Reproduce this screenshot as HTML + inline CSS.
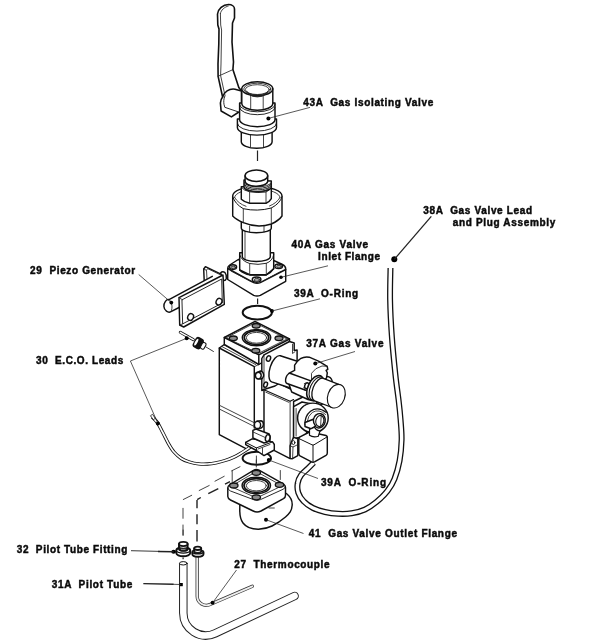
<!DOCTYPE html>
<html><head><meta charset="utf-8"><title>Gas Valve Assembly</title>
<style>
html,body{margin:0;padding:0;background:#fff;}
svg{display:block;}
text{white-space:pre;font-family:"Liberation Sans",sans-serif;font-weight:bold;font-size:10px;fill:#0a0a0a;stroke:#0a0a0a;stroke-width:0.45px;}
.k{fill:none;stroke:#111;stroke-width:1.45;stroke-linejoin:round;stroke-linecap:round;}
.w{fill:#fff;stroke:#111;stroke-width:1.45;stroke-linejoin:round;stroke-linecap:round;}
.t{fill:none;stroke:#222;stroke-width:0.85;stroke-linejoin:round;stroke-linecap:round;}
.tw{fill:#fff;stroke:#333;stroke-width:0.7;stroke-linejoin:round;}
.l{fill:none;stroke:#222;stroke-width:0.75;}
.d{fill:#000;stroke:none;}
.dash{fill:none;stroke:#222;stroke-width:1.2;}
</style></head>
<body>
<svg width="600" height="643" viewBox="0 0 600 643">
<rect width="600" height="643" fill="#fff"/>

<!-- LABELS -->
<g id="labels" xml:space="preserve" style="will-change:transform;transform:rotate(0.001deg)">
<text x="303.3" y="105.9" textLength="130" lengthAdjust="spacing">43A  Gas Isolating Valve</text>
<text x="423.3" y="213.8" textLength="108.8" lengthAdjust="spacing">38A  Gas Valve Lead</text>
<text x="452.7" y="226" textLength="102.6" lengthAdjust="spacing">and Plug Assembly</text>
<text x="291.5" y="248" textLength="76.5" lengthAdjust="spacing">40A Gas Valve</text>
<text x="318.1" y="260.3" textLength="61.9" lengthAdjust="spacing">Inlet Flange</text>
<text x="30.1" y="274" textLength="105.1" lengthAdjust="spacing">29  Piezo Generator</text>
<text x="293.9" y="296.7" textLength="64.2" lengthAdjust="spacing">39A  O-Ring</text>
<text x="306.2" y="347.2" textLength="77.3" lengthAdjust="spacing">37A Gas Valve</text>
<text x="36" y="364.2" textLength="87.2" lengthAdjust="spacing">30  E.C.O. Leads</text>
<text x="321" y="485.7" textLength="65" lengthAdjust="spacing">39A  O-Ring</text>
<text x="308.8" y="537.2" textLength="148.2" lengthAdjust="spacing">41  Gas Valve Outlet Flange</text>
<text x="16.7" y="552.8" textLength="110.6" lengthAdjust="spacing">32  Pilot Tube Fitting</text>
<text x="234.3" y="567.6" textLength="95.3" lengthAdjust="spacing">27  Thermocouple</text>
<text x="51.7" y="587.5" textLength="80.6" lengthAdjust="spacing">31A  Pilot Tube</text>
</g>

<!-- PART 43A : ball valve -->
<g id="p43">
<!-- handle -->
<path class="w" d="M221.1,111 L220.4,103 Q220.6,99.5 222.6,97 L218.1,76.3 L218,64 L218.8,44 L219,29 L217.8,25 L217.5,14 C218,9 223,4.5 228.5,4.5 C232,4.5 234.5,6.5 234.5,9 L234.5,18 L232.5,23 L232,42 L233.5,62 L232.9,69.6 L238.8,87.4 L241.5,91 L241.5,111 L238.1,112.5 L231.4,116.9 Z" style="stroke-width:1.6"/>
<path class="t" d="M220.4,13.5 C221,10 224.5,7 228.3,6 M220.4,13.5 L220.7,25 L221.6,30 L221,64 L220.6,75.5 L225,95.5"/>
<path class="t" d="M218.1,76.3 L232.9,69.6"/>
<path class="k" d="M222.6,97 C224,92 229,88.3 235,89.2 L241.5,91"/>
<path class="k" d="M224.8,96.2 C223.6,99 223.6,102 224,104.4 L224.8,107.3 L238.1,111.8" style="stroke-width:0.9"/>
<!-- lower hex -->
<path class="w" d="M241.3,130 L241.3,141.8 A15.4,6.5 0 0 0 272.1,141.8 L272.1,130 Z"/>
<path class="t" d="M250.5,135 L250.5,146.8 M263.5,135 L263.5,146.8"/>
<!-- lower ring -->
<path class="w" d="M237.4,119 L237.4,127.5 A19.55,7.6 0 0 0 276.5,127.5 L276.5,119 Z"/>
<path class="k" d="M237.4,123.5 A19.55,7.6 0 0 0 276.5,123.5" style="stroke-width:0.9"/>
<!-- body cylinder -->
<path class="w" d="M239.6,103 L239.6,119.5 A17.7,7.2 0 0 0 275,119.5 L275,103 Z"/>
<path class="k" d="M239.6,107.5 A17.7,7.2 0 0 0 275,107.5" style="stroke-width:0.9"/>
<path class="k" d="M239.6,104.6 A17.7,7.2 0 0 0 275,104.6" style="stroke-width:0.9"/>
<!-- upper hex -->
<path class="w" d="M241.8,88.8 L241.8,103.6 A15.5,6.6 0 0 0 272.8,103.6 L272.8,88.8 Z"/>
<path class="t" d="M250.7,95.2 L250.7,108.6 M263.2,95.4 L263.2,108.8"/>
<ellipse class="w" cx="257.3" cy="88.8" rx="15.5" ry="7"/>
<ellipse class="t" cx="257.3" cy="89" rx="13.6" ry="5.8"/>
<ellipse class="t" cx="257.3" cy="89.6" rx="12" ry="4.9"/>
<path class="t" d="M246.8,91.3 A10.5,4.6 0 0 0 267.8,91.3"/>
<path class="t" d="M248.3,92.8 A9,4 0 0 0 266.3,92.8"/>
<path class="t" d="M250,94.2 A7.5,3.2 0 0 0 264.6,94.2"/>
<circle class="d" cx="268.4" cy="118.4" r="2"/>
<path class="l" d="M268.4,118.4 L310,107.4"/>
</g>
<path class="dash" d="M257.5,150.5 L257.5,161"/>

<!-- PART 40A : union + inlet flange -->
<g id="p40">
<!-- flange -->
<path class="w" d="M227.7,268.5 Q227.7,266.2 229.7,265 L238.3,259.5 L273.7,260.5 L282.5,264.5 Q285.7,266 285.7,269 L285.7,281.3 L260.3,295.3 Q257,296.6 253.7,295.3 L227.7,279.5 Z"/>
<path class="k" d="M227.7,268.5 L253.7,282.7 Q257,284 260.3,282.7 L285.7,269.5"/>
<path class="t" d="M231,271 L251,281.6 M263,281 L280.8,271.5"/>
<ellipse class="w" cx="233" cy="267.1" rx="3.6" ry="2.3"/><ellipse class="t" cx="233.3" cy="267.4" rx="2.2" ry="1.3" style="fill:#aaa"/>
<ellipse class="w" cx="256.6" cy="279.6" rx="4.3" ry="2.6"/><ellipse class="t" cx="256.9" cy="279.9" rx="2.7" ry="1.5" style="fill:#aaa"/>
<ellipse class="w" cx="278.7" cy="266.3" rx="3.8" ry="2.3"/><ellipse class="t" cx="279" cy="266.6" rx="2.3" ry="1.3" style="fill:#aaa"/>
<!-- lower nut -->
<path class="w" d="M239.7,252.7 L239.7,270 L249.7,274.7 L266.3,274.7 L273.7,268.7 L273.7,252.7 Z"/>
<path class="k" d="M239.7,270 Q244,274 249.7,274.9 L266.3,274.9 Q271,273 273.7,268.7"/>
<path class="k" d="M239.7,254.8 Q241.5,261 249.7,263.5 Q258,265.3 266.3,263.3 Q272.5,261 273.7,254.8" style="stroke-width:0.9"/>
<path class="t" d="M249.7,263.5 L249.7,274.7 M266.3,263.3 L266.3,274.7"/>
<!-- tube -->
<path class="w" d="M242.3,226 L242.3,256.7 A14,4.8 0 0 0 270.3,256.7 L270.3,226 Z"/>
<path class="t" d="M245,231 L245,258.5"/>
<!-- ring under collar -->
<path class="w" d="M241.3,220 L241.3,228 A15,4.8 0 0 0 271.3,228 L271.3,220 Z"/>
<path class="t" d="M249.6,226 L249.6,232 M264,226 L264,232.2"/>
<!-- collar -->
<path class="w" d="M232.7,196 L232.7,216 Q236,219.5 243.3,222.7 Q257.3,228.6 271.3,224 Q279,220.5 282,216 L282,196 A24.65,9.3 0 0 0 232.7,196 Z"/>
<path class="k" d="M232.7,196.7 Q235,204 243.3,208.7 Q257.3,211.8 271.3,208 Q280,203.5 282,196.7" style="stroke-width:1"/>
<path class="t" d="M243.3,208.7 L243.3,222.7 M271.3,208 L271.3,224"/>
<path class="t" d="M234.6,197.5 A22.7,8.3 0 0 1 280,197.5"/>
<path class="t" d="M234.6,197.5 Q238,203.5 246,206.3 M280,197.5 Q277,203 269.5,206"/>
<!-- upper hex nut -->
<path class="w" d="M241.3,186.7 L241.3,199.3 Q244,202 249.6,203.3 L266,203.3 Q269.5,202 271.3,198.7 L271.3,186 Z"/>
<path class="k" d="M241.3,187.2 Q243.5,190.5 249.6,191.8 Q258,193.2 266,192 Q270,190.5 271.3,186.8" style="stroke-width:0.9"/>
<path class="t" d="M249.6,191.8 L249.6,203.3 M266,192 L266,203.3"/>
<!-- thread -->
<path class="w" d="M244,180 L244,187 A13.6,4.6 0 0 0 271.3,187 L271.3,181 Z"/>
<path class="t" d="M244.2,182 A13.5,4.6 0 0 0 271.2,182.6 M244.2,183.6 A13.5,4.6 0 0 0 271.2,184 M244.2,185.2 A13.5,4.6 0 0 0 271.2,185.4" style="stroke-width:1"/>
<path class="t" d="M246.5,188.2 A11,3.6 0 0 0 268.5,188.2"/>
<!-- cap -->
<path class="w" d="M245.1,175.7 L245.1,180.5 A11.3,5.2 0 0 0 267.7,181.5 L267.7,175.7 Z"/>
<ellipse class="w" cx="256.4" cy="175.7" rx="11.3" ry="5.7"/>
<circle class="d" cx="281" cy="277.3" r="1.8"/>
<path class="l" d="M281,277.3 L328,265.8"/>
</g>
<path class="dash" d="M257.6,298.5 L257.6,304"/>

<!-- PART 29 : piezo generator -->
<g id="p29">
<!-- back bracket -->
<path class="w" d="M203.7,269 L205.4,266.7 L223,275.2 L223,279 L204.3,283 Z"/>
<path class="t" d="M203.7,269 L206.5,270.3 L207,279 M206.5,270.3 L207.6,268.6 L220,274.6"/>
<!-- pin -->
<path class="w" d="M220.6,273 Q222.5,270.8 225,272.6 Q227,275 226.3,278.5 Q225.5,281 223.5,280.5 Z"/>
<!-- rod -->
<path d="M169,299.7 L212.3,276.3 L216,282 L171,311.7 C168,313.3 164.2,310.5 163.9,306.5 C163.7,302.5 166.5,299 169,299.7 Z" fill="#fff" stroke="none"/>
<path class="k" d="M212.3,276.3 L169,299.7 C166.5,299 163.7,302.5 163.9,306.5 C164.2,310.5 168,313.3 171,311.7 L180,307"/>
<path class="t" d="M169.5,300 C172,302 173,308 171,311.5"/>
<!-- plate -->
<path class="w" d="M179,297.7 L223,275 L224.3,304.3 L183.7,327 L179.7,325 Z"/>
<path class="k" d="M182.3,299.7 L221.7,279 L222.3,303 L183,323.7 Z" style="stroke-width:0.9"/>
<path class="t" d="M179,297.7 L182.3,299.7 M179.7,325 L183,323.7"/>
<ellipse class="w" cx="190.6" cy="317" rx="2.8" ry="3.4" transform="rotate(25 190.6 317)"/>
<ellipse class="w" cx="219" cy="301.7" rx="2.8" ry="3.4" transform="rotate(25 219 301.7)"/>
<circle class="d" cx="171.3" cy="302.6" r="1.9"/>
<path class="l" d="M171.3,302.6 L138.7,274.5"/>
</g>

<!-- upper O-ring 39A -->
<g id="oring1">
<ellipse class="k" cx="257.3" cy="312.6" rx="14.6" ry="6.9" style="stroke-width:2"/>
<circle class="d" cx="272" cy="311" r="1.9"/>
<path class="l" d="M272,311 L320,298.8"/>
</g>

<!-- PART 37A : gas valve -->
<g id="p37">
<!-- left main body -->
<path class="w" d="M219.3,348 L224.3,344.5 L258.8,362 L264.8,366 L264.8,442 L253,442 L247.8,449.6 L219.3,434.6 Z"/>
<path class="k" d="M219.3,348 L254.3,366.7 L254.3,428"/>
<path class="t" d="M221.8,346.5 L255.5,364.5"/>
<path class="t" d="M219.3,405.2 L254.3,422.7 M219.3,409 L254.3,426.5"/>
<path class="t" d="M254.3,366.7 L258.8,364.5"/>
<!-- right lower block -->
<path class="w" d="M264,389.5 L276,382 L305,396 L293.6,401.5 L293.6,457 L290.1,458.6 L274,450.4 L264,446 Z"/>
<path class="k" d="M264,389.8 L290.1,401.2 L293.6,399.5" style="stroke-width:1.1"/>
<path class="t" d="M290.1,401.2 L290.1,458.4 M265.8,392.2 L288.8,402.3"/>
<!-- top block -->
<path class="w" d="M224.3,337.5 L255,321.3 L289.5,339 L289.5,346 L258.8,364.5 L224.3,344.5 Z"/>
<path class="k" d="M224.3,337.5 L258.8,354.8 L289.5,339 M258.8,354.8 L258.8,364.5"/>
<path class="t" d="M226.6,337.6 L255,322.8 L287,339 L258.8,353.2 Z"/>
<ellipse class="w" cx="256.5" cy="337.6" rx="14.2" ry="8.2"/>
<ellipse class="k" cx="256.5" cy="337.6" rx="12.3" ry="6.9" style="stroke-width:1.7"/>
<ellipse class="t" cx="256.5" cy="337.8" rx="10.2" ry="5.4"/>
<g fill="#8a8a8a" stroke="#111" stroke-width="1.3">
<ellipse cx="256.2" cy="325.8" rx="4" ry="2.3"/>
<ellipse cx="233.3" cy="338.3" rx="4" ry="2.3"/>
<ellipse cx="279" cy="338.3" rx="4" ry="2.3"/>
<ellipse cx="255.8" cy="350.7" rx="4" ry="2.3"/>
</g>
<!-- side plate -->
<path class="w" d="M264,354.8 L289.5,341.5 L294.2,343 L294.2,350.4 L297.1,350 L297.1,372 L275,386 L264,389.5 L261.8,390.5 L261.8,358.5 Z"/>
<path class="t" d="M292.5,344.4 L292.5,353.5 L295,351.7"/>
<path class="t" d="M264,354.8 L264,388.5"/>
<ellipse class="w" cx="268.5" cy="358.5" rx="2" ry="2.8" transform="rotate(20 268.5 358.5)"/>
<ellipse class="w" cx="265.6" cy="384.7" rx="1.8" ry="2.7" transform="rotate(20 265.6 384.7)"/>
<!-- knob on front -->
<path class="w" d="M256.3,373 L260.5,371 Q264,372 263.6,376 Q263,378.5 260.8,379 L257,378.6 Z"/>
<ellipse class="w" cx="258.3" cy="375.6" rx="2.9" ry="3.3"/>
</g>

<!-- solenoid group -->
<g id="sol">
<!-- big cylinder 1 -->
<path class="w" d="M301.2,362.5 L280.3,355.7 A6.3,13.8 18 0 0 271.7,381.9 L292.7,388.7 Z"/>
<!-- lower housing under rod -->
<path class="w" d="M288.8,383.8 L291.7,392 L308,399.5 L314,401 L314,384 Z"/>
<!-- back ring -->
<ellipse class="w" cx="324" cy="390.5" rx="7.5" ry="14.5" transform="rotate(19.8 324 390.5)"/>
<!-- clamp bracket -->
<path class="w" d="M297.5,361.1 L300.4,358.7 Q304.5,356.3 309.2,357.2 L318.5,361.1 L327.2,366.3 L327.8,369.3 L326.1,370.4 L327.3,372.8 L326.5,378 L311.5,392 L304.5,389.5 L288.8,381 L288.8,373.3 L294.6,370.4 L294.6,365.2 Z"/>
<path class="t" d="M311.5,381.5 L311.5,373.3 Q315,367.8 322,366 L327.2,366.3"/>
<!-- small rod -->
<path class="w" d="M312.2,381.4 L290.6,373.5 A2.9,5.3 20 0 0 287.0,383.5 L308.6,391.3 Z"/>
<ellipse class="w" cx="306.8" cy="385.8" rx="2" ry="3" transform="rotate(20 306.8 385.8)"/>
<path class="t" d="M304.3,383.6 L306.3,382.9 M303.6,387.8 L305.8,388.6"/>
<!-- big end cylinder -->
<ellipse class="w" cx="315" cy="387.6" rx="6.9" ry="13" transform="rotate(25 315 387.6)" style="stroke-width:1.6"/>
<ellipse class="w" cx="316.8" cy="388.4" rx="6.5" ry="12.3" transform="rotate(24 316.8 388.4)" style="stroke-width:1.1"/>
<path class="w" d="M340.7,385.1 L323.3,378.4 A6.3,12.0 21 0 0 314.7,400.8 L332.1,407.5 Z" style="stroke-width:1.3"/>
<ellipse class="w" cx="336.3" cy="396.2" rx="8.5" ry="12.2" transform="rotate(19.8 336.3 396.2)" style="stroke-width:1.1"/>
<circle class="d" cx="315.3" cy="363.6" r="2"/>
<path class="l" d="M315.3,363.6 L355,351.5"/>
</g>

<!-- lower knob unit -->
<g id="knob">
<path class="w" d="M293.6,406.6 L302,402 L312,404 L306,436 L293.6,438.8 Z"/>
<path class="t" d="M296.1,408.5 L296.1,436"/>
<ellipse class="w" cx="312.9" cy="417.9" rx="15.3" ry="14.8"/>
<path class="t" d="M298.6,413.5 Q300.5,406.5 307.5,404"/>
<path class="k" d="M305,425 Q304.5,416 310.5,411.2 Q318,406 326.3,412.5" style="stroke-width:1.2"/>
<path class="t" d="M307.2,421.5 Q308,415.5 312.5,412.3 Q319,408.5 325.6,414.5"/>
<ellipse class="w" cx="319.2" cy="420.8" rx="6" ry="7.2" transform="rotate(12 319.2 420.8)"/>
<ellipse class="k" cx="319.8" cy="421" rx="4" ry="5.5" transform="rotate(12 319.8 421)" style="stroke-width:1.1"/>
<path class="t" d="M321.2,416 L320.6,426"/>
<path class="w" d="M305,422.5 L313.3,419.3 Q313.2,423.5 315.5,426 L311,428.8 L305,426.5 Z"/>
</g>

<!-- PART 38A : lead cable -->
<g id="p38">
<path d="M390.5,268.0 C390.4,273.3 389.9,288.5 390.1,300.0 C390.3,311.5 391.0,324.6 391.9,337.0 C392.8,349.4 394.3,364.1 395.4,374.6 C396.5,385.1 397.7,392.4 398.6,400.0 C399.5,407.6 400.1,413.3 400.6,420.0 C401.1,426.7 401.8,433.2 401.6,440.0 C401.4,446.8 400.8,454.1 399.6,460.6 C398.4,467.1 396.5,473.8 394.5,478.8 C392.5,483.9 390.5,487.0 387.5,490.9 C384.5,494.8 380.1,498.9 376.4,502.0 C372.6,505.1 369.1,507.6 365.0,509.5 C360.9,511.4 356.1,512.6 351.7,513.3 C347.2,514.0 342.8,514.0 338.3,513.8 C333.9,513.6 329.2,513.0 325.0,512.0 C320.8,511.0 316.6,509.8 313.0,508.0 C309.4,506.2 306.1,503.9 303.7,501.3 C301.2,498.8 299.3,495.7 298.3,492.7 C297.3,489.7 297.2,486.2 297.7,483.3 C298.1,480.4 299.3,477.7 301.0,475.3 C302.7,472.9 305.6,470.8 307.7,468.7 C309.8,466.6 312.7,463.7 313.7,462.7" fill="none" stroke="#111" stroke-width="6" stroke-linecap="butt"/>
<path d="M390.5,268.0 C390.4,273.3 389.9,288.5 390.1,300.0 C390.3,311.5 391.0,324.6 391.9,337.0 C392.8,349.4 394.3,364.1 395.4,374.6 C396.5,385.1 397.7,392.4 398.6,400.0 C399.5,407.6 400.1,413.3 400.6,420.0 C401.1,426.7 401.8,433.2 401.6,440.0 C401.4,446.8 400.8,454.1 399.6,460.6 C398.4,467.1 396.5,473.8 394.5,478.8 C392.5,483.9 390.5,487.0 387.5,490.9 C384.5,494.8 380.1,498.9 376.4,502.0 C372.6,505.1 369.1,507.6 365.0,509.5 C360.9,511.4 356.1,512.6 351.7,513.3 C347.2,514.0 342.8,514.0 338.3,513.8 C333.9,513.6 329.2,513.0 325.0,512.0 C320.8,511.0 316.6,509.8 313.0,508.0 C309.4,506.2 306.1,503.9 303.7,501.3 C301.2,498.8 299.3,495.7 298.3,492.7 C297.3,489.7 297.2,486.2 297.7,483.3 C298.1,480.4 299.3,477.7 301.0,475.3 C302.7,472.9 305.6,470.8 307.7,468.7 C309.8,466.6 312.7,463.7 313.7,462.7" fill="none" stroke="#fff" stroke-width="3.4" stroke-linecap="butt"/>
<circle class="d" cx="394.3" cy="259.3" r="3"/>
<path class="l" d="M394.3,259.3 L431.3,216.3" style="stroke-width:1.3"/>
</g>

<!-- plug box -->
<g id="plug">
<path class="w" d="M298.8,439 Q298.8,437.5 300,436.8 L308.5,432.5 Q310,431.8 311.5,432.3 L326,435.5 Q327.3,436 327.3,437.5 L327.3,453 Q327.3,454.5 326,455.3 L314.5,461.8 Q313,462.5 311.5,461.8 L300,455.8 Q298.8,455 298.8,453.5 Z"/>
<path class="k" d="M298.8,438.5 L312,444.8 Q313,445.3 314,444.8 L327.3,436.8 M313,445.3 L313,462" style="stroke-width:1"/>
<!-- clip -->
<path class="w" d="M290.1,446 L291.5,441.8 L293.6,437.4 L297.8,438.8 L297.8,455.6 L292,458.8 L290.1,458.4 Z"/>
<path class="t" d="M290.3,446 L293,447 L297.8,444.6 M293,447 L292.6,458.4"/>
<ellipse class="w" cx="293.4" cy="442.6" rx="1.5" ry="2" style="stroke-width:0.9"/>
<path class="w" d="M309.5,429.4 L309.5,435.2 Q313,437.8 318.3,436.2 L320,431 Q316,430.5 314.5,427.2 Z" style="stroke-width:1.2"/>
</g>

<!-- lower O-ring 39A -->
<g id="oring2">
<ellipse class="k" cx="256.8" cy="458.2" rx="14.2" ry="6.5" style="stroke-width:2"/>
<path class="t" d="M256.4,456 L256.4,463"/>
<circle class="d" cx="268.8" cy="460" r="2"/>
<path class="l" d="M268.8,460 L318,478.5"/>
</g>

<!-- PART 30 : ECO leads -->
<g id="p30">
<path d="M152.3,417.0 C153.2,418.0 155.8,420.3 157.5,422.8 C159.2,425.3 160.7,428.6 162.5,432.0 C164.3,435.4 166.4,440.0 168.3,443.3 C170.2,446.6 171.8,449.5 174.0,452.0 C176.2,454.5 178.7,456.8 181.3,458.5 C183.9,460.2 186.6,461.1 189.5,462.0 C192.4,462.9 195.7,463.6 198.7,463.9 C201.7,464.2 204.6,464.2 207.5,464.0 C210.4,463.8 213.1,463.4 216.0,462.8 C218.9,462.2 222.1,461.4 225.0,460.5 C227.9,459.6 230.8,458.5 233.3,457.4 C235.8,456.3 237.8,455.1 240.0,453.8 C242.2,452.5 244.5,451.0 246.3,449.8 C248.1,448.6 250.0,447.1 250.7,446.6" fill="none" stroke="#111" stroke-width="3.4"/>
<path d="M152.3,417.0 C153.2,418.0 155.8,420.3 157.5,422.8 C159.2,425.3 160.7,428.6 162.5,432.0 C164.3,435.4 166.4,440.0 168.3,443.3 C170.2,446.6 171.8,449.5 174.0,452.0 C176.2,454.5 178.7,456.8 181.3,458.5 C183.9,460.2 186.6,461.1 189.5,462.0 C192.4,462.9 195.7,463.6 198.7,463.9 C201.7,464.2 204.6,464.2 207.5,464.0 C210.4,463.8 213.1,463.4 216.0,462.8 C218.9,462.2 222.1,461.4 225.0,460.5 C227.9,459.6 230.8,458.5 233.3,457.4 C235.8,456.3 237.8,455.1 240.0,453.8 C242.2,452.5 244.5,451.0 246.3,449.8 C248.1,448.6 250.0,447.1 250.7,446.6" fill="none" stroke="#fff" stroke-width="1.7"/>
<path class="w" d="M150.8,415.5 L152.5,414.3 L155.3,418.3 L153.6,419.5 Z" style="stroke-width:0.8"/>
<path class="l" d="M186.7,338.3 L130.4,361 L157.9,423.4"/>
<circle class="d" cx="157.9" cy="423.4" r="2"/>
<!-- plug -->
<path d="M180.3,332.3 L193.3,339.6" fill="none" stroke="#111" stroke-width="3" stroke-linecap="round"/>
<path d="M180.3,332.3 L193.3,339.6" fill="none" stroke="#fff" stroke-width="1.5" stroke-linecap="round"/>
<circle class="d" cx="186.7" cy="338.3" r="2"/>
<path class="l" d="M205.5,346.7 L213.8,351.7" style="stroke-width:0.9"/>
<g transform="translate(0.3,0.7) rotate(28 199 343)">
<rect x="193.3" y="337.2" width="9" height="11.6" rx="3" fill="#111"/>
<rect x="201.5" y="339.6" width="4" height="6.8" rx="1.6" fill="#fff" stroke="#111" stroke-width="1.1"/>
<ellipse cx="195.6" cy="343" rx="1.2" ry="3.8" fill="#fff"/>
</g>
</g>

<!-- ECO connector block on valve -->
<g id="ecoblk">
<!-- base -->
<path class="w" d="M245.7,442.4 L252.1,438.9 L272.6,441.9 L274.3,444.5 L274.3,450 L264,455.6 L256.4,450.5 L245.7,444.7 Z"/>
<path class="k" d="M245.7,442.4 L256.4,447.9 L272.6,441.9 M256.4,447.9 L256.4,450.5" style="stroke-width:1"/>
<path class="t" d="M258,449 L270,444.5 M262.5,454.5 L262.5,448"/>
<!-- upper cylinder block -->
<path class="w" d="M252.9,430.4 L256,429 L269.2,434 Q270.5,436.5 270,440.5 L266,442.5 L264,443 L252.9,438 Z"/>
<path class="t" d="M252.9,431.9 L264.6,437.2"/>
<ellipse class="w" cx="267.7" cy="438.1" rx="2.2" ry="3.5" transform="rotate(15 267.7 438.1)"/>
<!-- knob -->
<path class="w" d="M257.2,421.3 L261,420.8 Q263.6,421.5 263.4,424.5 Q263.2,427.2 261.2,428 L257.8,428.5 Z"/>
<ellipse class="w" cx="257.5" cy="424.9" rx="3.1" ry="3.6"/>
</g>

<!-- PART 41 : outlet flange -->
<g id="p41">
<!-- elbow -->
<path class="w" d="M239.8,502 L239.8,508 C239.5,515 240,519 243,523 C246,527 251,529.3 258.5,529.2 C264,529 268,528 272,526 C278,523 282,520 285.5,517 C289.5,513.5 291.8,511 292.2,505 C292.4,500.5 290.5,497 287,494 L284,492 Z"/>
<path class="t" d="M269,508 L274.3,508"/>
<!-- flange body -->
<path class="w" d="M227.8,488 Q227.8,485.8 230,484.5 L253.5,470.3 Q256.3,468.8 259,470.2 L283.3,483.8 Q285.5,485.2 285.5,487.5 L285.5,495.3 Q285.5,497.5 283.5,498.7 L261,511 Q257,513 253.2,511 L230.5,500 Q227.8,498.5 227.8,496.5 Z"/>
<path class="k" d="M227.8,488 Q228,489.8 230.5,491 L253.5,499.6 Q257,501.3 260.5,499.6 L283,489.3 Q285.5,488 285.5,486.5" style="stroke-width:0.9"/>
<path class="t" d="M231,486.3 L256.3,471.5 L282,485.8 L257,497.8 Z"/>
<ellipse class="w" cx="256.3" cy="485.5" rx="14.2" ry="8.2"/>
<ellipse class="k" cx="256.3" cy="485.5" rx="12.3" ry="6.9" style="stroke-width:1.7"/>
<ellipse class="t" cx="256.3" cy="485.7" rx="10" ry="5.2"/>
<g fill="#8a8a8a" stroke="#111" stroke-width="1.3">
<ellipse cx="256.3" cy="472.8" rx="4.2" ry="2.5"/>
<ellipse cx="233.8" cy="485.5" rx="4.2" ry="2.5"/>
<ellipse cx="279.5" cy="484.8" rx="4.2" ry="2.5"/>
<ellipse cx="256.3" cy="497.3" rx="4.2" ry="2.5"/>
</g>
<circle class="d" cx="266" cy="519.7" r="2"/>
<path class="l" d="M266,519.7 L303.5,533.5"/>
</g>

<!-- PART 31A / 32 / 27 : pilot tube, fitting, thermocouple -->
<g id="tubes">
<path d="M183.3,563.3 L183.3,613 A22.5,22.5 0 0 0 215.3,633.3 L294.6,596" fill="none" stroke="#222" stroke-width="8.5" stroke-linecap="round"/>
<path d="M183.3,562 L183.3,613 A22.5,22.5 0 0 0 215.3,633.3 L294.6,596" fill="none" stroke="#fff" stroke-width="6.5" stroke-linecap="round"/>
<rect x="178" y="555" width="11" height="8" fill="#fff"/>
<ellipse class="w" cx="183.3" cy="563.3" rx="3.8" ry="1.7" style="stroke-width:1"/>
<path d="M197.2,556 L197.2,596.3 A9.1,9.1 0 0 0 209.9,604.6 L252.3,586.3" fill="none" stroke="#333" stroke-width="3.3" stroke-linecap="round"/>
<path d="M197.2,556 L197.2,596.3 A9.1,9.1 0 0 0 209.9,604.6 L252.3,586.3" fill="none" stroke="#eee" stroke-width="1.8" stroke-linecap="round"/>
<!-- fitting 32 -->
<g stroke-width="1.9">
<path class="w" d="M176.3,550.6 Q176.3,548.6 179,548 L187.4,548 Q190.2,548.6 190.2,550.6 L190.2,553 A6.95,3.2 0 0 1 176.3,553 Z" style="stroke-width:1.9"/>
<path class="k" d="M176.5,551 A6.9,2.6 0 0 0 190,551" style="stroke-width:1.3"/>
<path class="w" d="M179,544 L179,549 A4.3,1.9 0 0 0 187.6,549 L187.6,544 Z" style="stroke-width:1.9"/>
<path d="M179,546.4 A4.3,1.9 0 0 0 187.6,546.4 L187.6,549 A4.3,1.9 0 0 1 179,549 Z" fill="#222" stroke="#111" stroke-width="1"/>
<path d="M181,549.6 L185.5,549.6" stroke="#bbb" stroke-width="0.7" fill="none"/>
<ellipse class="w" cx="183.3" cy="544" rx="4.3" ry="2.1" style="stroke-width:1.9"/>
</g>
<path class="dash" d="M183.1,557.6 L183.1,559.3" style="stroke-width:1.2"/>
<!-- thermocouple nut -->
<path class="w" d="M192.3,552 Q192.3,550.8 193.8,550.6 L201.6,550.6 Q203.5,550.8 203.5,552 L203.5,554 A5.6,2.7 0 0 1 192.3,554 Z" style="stroke-width:1.9"/>
<path class="k" d="M192.5,552.4 A5.6,2.2 0 0 0 203.3,552.4" style="stroke-width:1.2"/>
<path class="w" d="M194.2,548.3 L194.2,551.5 A3.5,1.6 0 0 0 201.2,551.5 L201.2,548.3 Z" style="stroke-width:1.8"/>
<path d="M194.2,550.3 A3.5,1.6 0 0 0 201.2,550.3 L201.2,551.5 A3.5,1.6 0 0 1 194.2,551.5 Z" fill="#222" stroke="none"/>
<ellipse class="w" cx="197.7" cy="548.3" rx="3.5" ry="1.7" style="stroke-width:1.8"/>
<ellipse class="d" cx="173.6" cy="551.7" rx="2.3" ry="2"/>
<path class="l" d="M131,550.7 L160,551.4" style="stroke-width:0.9"/>
<path class="l" d="M158,551.4 L173.8,551.8" style="stroke-width:1.5"/>
<rect class="d" x="179.6" y="583" width="3.2" height="3.2"/>
<path class="l" d="M143.3,583.6 L173.5,584.3" style="stroke-width:1.4"/>
<path class="l" d="M173,584.3 L181,584.5" style="stroke-width:0.8"/>
<circle class="d" cx="212.6" cy="602.8" r="2"/>
<path class="l" d="M212.6,602.8 L236.5,570"/>
</g>

<!-- dashed centre lines -->
<g id="dashes">
<path class="t" d="M256.3,460 L256.3,467 M232.2,470.8 L232.2,481.5 M280.3,470.5 L280.3,479.5"/>
<path class="t" d="M183.1,530 L183.1,535.3 M183,508.3 L183,518.3 M183,525 L183,535 M183.3,499.5 L191.7,495.3 M199.2,490.5 L209.2,485.5 M215,481.2 L224.2,476.3 M231.7,470.8 L240,466.7"/>
<path class="dash" d="M197,500 L197,508.3 M197,514.2 L197,524.2 M197,530 L197,541.5 M197.2,499.7 L200.8,497.5 M208.3,493.7 L218.3,488.7 M225,484.2 L230,481.7" style="stroke-width:1.4"/>
</g>

</svg>
</body></html>
